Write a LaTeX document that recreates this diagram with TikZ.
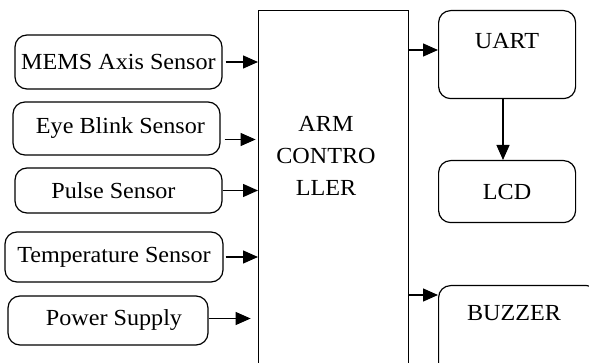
\documentclass[tikz,border=0pt]{standalone}
\usepackage{fontspec}
\setmainfont{Liberation Serif}[FakeStretch=1.05]
\usetikzlibrary{arrows.meta}
\begin{document}
\begin{tikzpicture}[x=1pt,y=-1pt,
  every node/.style={font=\fontsize{23}{27}\selectfont, inner sep=0pt},
  rbox/.style={draw, line width=1.2pt, rounded corners=12pt, minimum width=#1},
  sqbox/.style={draw, line width=1.2pt},
  arr/.style={line width=1.3pt, -{Triangle[length=15pt,width=13pt]}}]
\useasboundingbox (0,0) rectangle (589,363);
\clip (0,0) rectangle (589,363);
% left inputs
\node[rbox=207pt, minimum height=54pt] (mems) at (118.5,62) {MEMS Axis Sensor};
\node[rbox=207pt, minimum height=53pt] (eye) at (116.5,128.5) {\hspace*{8pt}Eye Blink Sensor};
\node[rbox=207pt, minimum height=45pt] (pulse) at (118.5,190.5) {Pulse Sensor\hspace*{10pt}};
\node[rbox=218pt, minimum height=50pt] (temp) at (114,257) {Temperature Sensor};
\node[rbox=200pt, minimum height=49pt] (power) at (108,320.5) {\hspace*{12pt}Power Supply};
% controller
\node[sqbox, minimum width=150pt, minimum height=370pt, anchor=north west] (arm) at (258,10) {};
\node[align=center, font=\fontsize{23}{32}\selectfont] (armtxt) at (326,156) {ARM\\CONTRO\\LLER};
% outputs
\node[rbox=137pt, minimum height=88pt, anchor=north west] (uart) at (438,10) {};
\node (uarttxt) at (507,41) {UART};
\node[rbox=137pt, minimum height=62pt, anchor=north west] (lcd) at (438,160) {LCD};
\node[rbox=160pt, minimum height=90pt, anchor=north west] (buzzer) at (438,285) {};
\node (buzzertxt) at (514,313) {BUZZER};
% connectors
\draw[arr] ([xshift=3pt]mems.east) -- (mems.east -| arm.west);
\coordinate (eyetip) at ([xshift=35pt,yshift=-11pt]eye.east);
\draw[arr] ([xshift=4pt,yshift=-11pt]eye.east) -- (eyetip);
\draw[arr] (pulse.east) -- (pulse.east -| arm.west);
\draw[arr] ([xshift=2pt]temp.east) -- (temp.east -| arm.west);
\coordinate (powtip) at ([xshift=42pt,yshift=2pt]power.east);
\draw[arr] ([yshift=2pt]power.east) -- (powtip);
\draw[arr] (arm.east |- 0,50) -- (uart.west |- 0,50);
\draw[arr] (uart.south -| 503,0) -- (lcd.north -| 503,0);
\draw[arr] (arm.east |- 0,295) -- (buzzer.west |- 0,295);
\end{tikzpicture}
\end{document}
